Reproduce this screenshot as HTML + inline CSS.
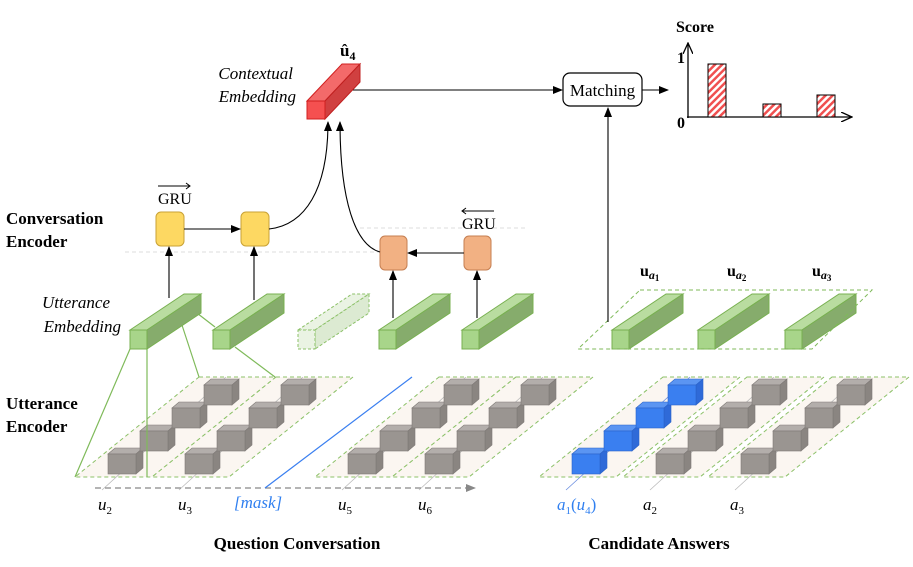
<!DOCTYPE html>
<html><head><meta charset="utf-8"><style>
html,body{margin:0;padding:0;background:#fff;width:913px;height:567px;overflow:hidden}
svg{display:block}
.s{font-family:"Liberation Serif",serif}
</style></head><body>
<svg id="g" width="913" height="567" viewBox="0 0 913 567" xmlns="http://www.w3.org/2000/svg">
<defs>
<marker id="ar" markerWidth="10" markerHeight="8" refX="9" refY="4" orient="auto" markerUnits="userSpaceOnUse"><path d="M0,0 L10,4 L0,8 z" fill="#000"/></marker>
<marker id="ag" markerWidth="10" markerHeight="8" refX="9" refY="4" orient="auto" markerUnits="userSpaceOnUse"><path d="M0,0 L10,4 L0,8 z" fill="#888"/></marker>
<marker id="ao" markerWidth="12" markerHeight="10" refX="11" refY="5" orient="auto" markerUnits="userSpaceOnUse"><path d="M0,0 L11,5 L0,10" fill="none" stroke="#000" stroke-width="1.3"/></marker>
<pattern id="hat" width="5" height="5" patternUnits="userSpaceOnUse" patternTransform="rotate(45)"><rect width="5" height="5" fill="#fff"/><rect width="2.5" height="5" fill="#f05050"/></pattern>
</defs>
<g id="panels"></g>
<!-- dashed helper lines -->
<line x1="360" y1="228" x2="525" y2="228" stroke="#ddd" stroke-dasharray="4,3"/>
<line x1="125" y1="252" x2="380" y2="252" stroke="#ddd" stroke-dasharray="4,3"/>
<!-- axis -->
<line x1="95" y1="488" x2="475" y2="488" stroke="#888" stroke-width="1.3" stroke-dasharray="6,4" marker-end="url(#ag)"/>
<line x1="265" y1="488" x2="412" y2="377" stroke="#3a7ff0" stroke-width="1.2"/>
<!-- green connector lines -->
<g stroke="#7fba5a" stroke-width="1.2">
<line x1="130" y1="349" x2="75" y2="477"/><line x1="147" y1="349" x2="147" y2="477"/>
<line x1="180" y1="319" x2="199" y2="377"/><line x1="184" y1="303" x2="215" y2="327"/>
<line x1="235" y1="347" x2="275" y2="377"/>
</g>
<g id="bars"></g>
<!-- candidate panel -->
<polygon points="640,290 872,290 812,349 578,349" fill="none" stroke="#7fba5a" stroke-dasharray="4,3"/>
<!-- GRU boxes -->
<rect x="156" y="212" width="28" height="34" rx="5" fill="#fdd862" stroke="#c9a235"/>
<rect x="241" y="212" width="28" height="34" rx="5" fill="#fdd862" stroke="#c9a235"/>
<rect x="380" y="236" width="27" height="34" rx="5" fill="#f2b183" stroke="#c57f52"/>
<rect x="464" y="236" width="27" height="34" rx="5" fill="#f2b183" stroke="#c57f52"/>
<g stroke="#000" stroke-width="1.1" fill="none">
<line x1="184" y1="229" x2="240" y2="229" marker-end="url(#ar)"/>
<line x1="464" y1="253" x2="408" y2="253" marker-end="url(#ar)"/>
<line x1="169" y1="298" x2="169" y2="247" marker-end="url(#ar)"/>
<line x1="254" y1="300" x2="254" y2="247" marker-end="url(#ar)"/>
<line x1="393" y1="318" x2="393" y2="271" marker-end="url(#ar)"/>
<line x1="477" y1="318" x2="477" y2="271" marker-end="url(#ar)"/>
<path d="M269,229 C305,225 328,190 328,122" marker-end="url(#ar)"/>
<path d="M380,252 C355,245 340,200 340,122" marker-end="url(#ar)"/>
<line x1="344" y1="90" x2="562" y2="90" marker-end="url(#ar)"/>
<line x1="642" y1="90" x2="668" y2="90" marker-end="url(#ar)"/>
<line x1="608" y1="322" x2="608" y2="108" marker-end="url(#ar)"/>
</g>
<!-- red bar -->
<polygon points="307,101 342,64 360,64 325,101" fill="#f36a6a" stroke="#d02020"/>
<polygon points="325,101 360,64 360,82 325,119" fill="#d04040" stroke="#c02020"/>
<rect x="307" y="101" width="18" height="18" fill="#f55050" stroke="#d02020"/>
<text x="340" y="56" class="s" font-size="17" font-weight="bold">û<tspan font-size="12" dy="4">4</tspan></text>
<!-- matching -->
<rect x="563" y="73" width="79" height="33" rx="7" fill="#fff" stroke="#000" stroke-width="1.2"/>
<text x="602.5" y="96" class="s" font-size="17" text-anchor="middle">Matching</text>
<!-- chart -->
<line x1="688" y1="118" x2="688" y2="43" stroke="#000" stroke-width="1.3" marker-end="url(#ao)"/>
<line x1="687" y1="117" x2="852" y2="117" stroke="#000" stroke-width="1.3" marker-end="url(#ao)"/>
<rect x="708" y="64" width="18" height="53" fill="url(#hat)" stroke="#000"/>
<rect x="763" y="104" width="18" height="13" fill="url(#hat)" stroke="#000"/>
<rect x="817" y="95" width="18" height="22" fill="url(#hat)" stroke="#000"/>
<g class="s" font-weight="bold" font-size="16">
<text x="676" y="32">Score</text><text x="677" y="63">1</text><text x="677" y="128">0</text>
</g>
<!-- labels -->
<g class="s" font-size="16">
<text x="158" y="204">GRU</text><line x1="158" y1="186" x2="190" y2="186" stroke="#000"/><path d="M186,183 L190,186 L186,189" fill="none" stroke="#000"/>
<text x="462" y="229">GRU</text><line x1="462" y1="211" x2="494" y2="211" stroke="#000"/><path d="M466,208 L462,211 L466,214" fill="none" stroke="#000"/>
<g font-style="italic" text-anchor="end" font-size="17">
<text x="293" y="79">Contextual</text><text x="296" y="102">Embedding</text>
<text x="110" y="308">Utterance</text><text x="121" y="332">Embedding</text>
</g>
<g font-weight="bold" font-size="17">
<text x="6" y="224">Conversation</text><text x="6" y="247">Encoder</text>
<text x="6" y="409">Utterance</text><text x="6" y="432">Encoder</text>
<text x="297" y="549" text-anchor="middle">Question Conversation</text>
<text x="659" y="549" text-anchor="middle">Candidate Answers</text>
</g>
<g font-weight="bold"><text x="640" y="276">u<tspan font-style="italic" font-size="12" dy="3">a</tspan><tspan font-size="9" dy="2">1</tspan></text>
<text x="727" y="276">u<tspan font-style="italic" font-size="12" dy="3">a</tspan><tspan font-size="9" dy="2">2</tspan></text>
<text x="812" y="276">u<tspan font-style="italic" font-size="12" dy="3">a</tspan><tspan font-size="9" dy="2">3</tspan></text></g>
<g font-style="italic" font-size="17">
<text x="98" y="510">u<tspan font-size="11" dy="4" font-style="normal">2</tspan></text>
<text x="178" y="510">u<tspan font-size="11" dy="4" font-style="normal">3</tspan></text>
<text x="234" y="508" fill="#2f7ff0">[mask]</text>
<text x="338" y="510">u<tspan font-size="11" dy="4" font-style="normal">5</tspan></text>
<text x="418" y="510">u<tspan font-size="11" dy="4" font-style="normal">6</tspan></text>
<text x="557" y="510" fill="#2f7ff0">a<tspan font-size="11" dy="4" font-style="normal">1</tspan><tspan dy="-4" font-style="normal">(</tspan>u<tspan font-size="11" dy="4" font-style="normal">4</tspan><tspan dy="-4" font-style="normal">)</tspan></text>
<text x="643" y="510">a<tspan font-size="11" dy="4" font-style="normal">2</tspan></text>
<text x="730" y="510">a<tspan font-size="11" dy="4" font-style="normal">3</tspan></text>
</g>
</g>
</svg>
<script>
var NS="http://www.w3.org/2000/svg";
function el(p,t,a){var e=document.createElementNS(NS,t);for(var k in a)e.setAttribute(k,a[k]);p.appendChild(e);return e;}
var P=document.getElementById('panels'),B=document.getElementById('bars');
var panels=[[75,0],[152,0],[315,0],[392,0],[539,1],[623,0],[708,0]];
panels.forEach(function(p){var x=p[0];
 el(P,'polygon',{points:(x+124)+',377 '+(x+201)+',377 '+(x+77)+',477 '+x+',477',fill:'#fbf6f1',stroke:'#8cc168','stroke-dasharray':'4,3'});
 el(P,'line',{x1:x+27,y1:490,x2:x+151,y2:377,stroke:p[1]?'#6c8fe0':'#bbb','stroke-width':0.8});
});
panels.forEach(function(p){var x=p[0];
 for(var i=0;i<4;i++){var cx=x+33+32*i,cy=454-23*i,w=28,h=20;
  var f=p[1]?'#3a7ff0':'#9a9591',t=p[1]?'#5b95f2':'#b3aeab',s=p[1]?'#2a62c8':'#7e7976',sd=p[1]?'#2f6ad8':'#8a8581';
  el(P,'polygon',{points:cx+','+cy+' '+(cx+7)+','+(cy-6)+' '+(cx+w+7)+','+(cy-6)+' '+(cx+w)+','+cy,fill:t,stroke:s,'stroke-width':0.6});
  el(P,'polygon',{points:(cx+w)+','+cy+' '+(cx+w+7)+','+(cy-6)+' '+(cx+w+7)+','+(cy+h-6)+' '+(cx+w)+','+(cy+h),fill:sd,stroke:s,'stroke-width':0.6});
  el(P,'rect',{x:cx,y:cy,width:w,height:h,fill:f,stroke:s,'stroke-width':0.6});
 }});
function bar(x,y,dash){var w=17,h=19,dx=54,dy=-36;
 var o=dash?{stroke:'#8cc168','stroke-dasharray':'3,2'}:{stroke:'#78b050'};
 function a(base){for(var k in o)base[k]=o[k];return base;}
 el(B,'polygon',a({points:x+','+y+' '+(x+dx)+','+(y+dy)+' '+(x+dx+w)+','+(y+dy)+' '+(x+w)+','+y,fill:dash?'#eaf3e3':'#b9dca0'}));
 el(B,'polygon',a({points:(x+w)+','+y+' '+(x+w+dx)+','+(y+dy)+' '+(x+w+dx)+','+(y+dy+h)+' '+(x+w)+','+(y+h),fill:dash?'#dcead2':'#86ac6c'}));
 el(B,'rect',a({x:x,y:y,width:w,height:h,fill:dash?'#eaf3e3':'#a8d58a'}));
}
[[130,0],[213,0],[298,1],[379,0],[462,0],[612,0],[698,0],[785,0]].forEach(function(b){bar(b[0],330,b[1]);});
</script>
</body></html>
